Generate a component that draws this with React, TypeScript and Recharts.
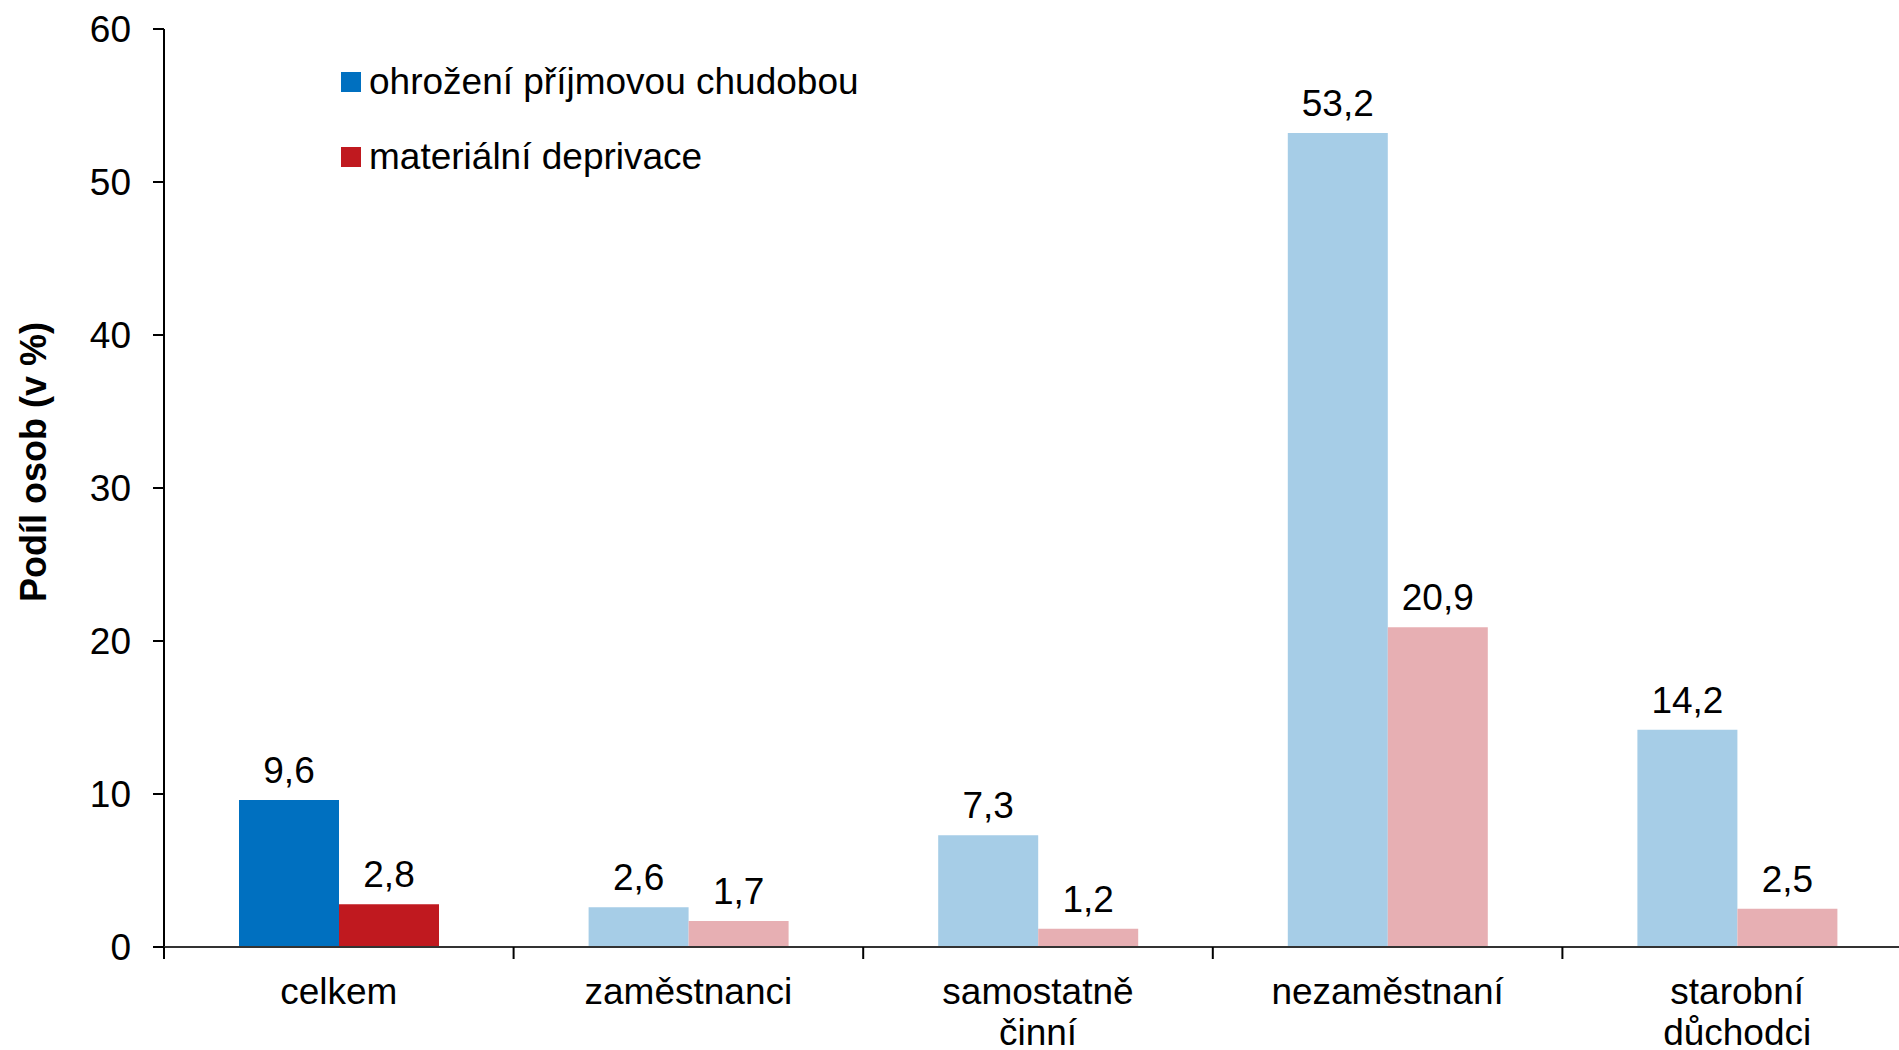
import { BarChart, Bar, XAxis, YAxis, Cell, LabelList, Legend } from "recharts";

const categories = ["celkem", "zaměstnanci", "samostatně činní", "nezaměstnaní", "starobní důchodci"];
const incomePoverty = [9.6, 2.6, 7.3, 53.2, 14.2];
const materialDeprivation = [2.8, 1.7, 1.2, 20.9, 2.5];
const yTicks = [0, 10, 20, 30, 40, 50, 60];
const seriesNames = ["ohrožení příjmovou chudobou", "materiální deprivace"];

const FONT = '"Liberation Sans", Arial, sans-serif';
const FS = 37;
const BLUE = "#0070c0";
const BLUE_LIGHT = "#a6cde7";
const RED = "#c0191f";
const RED_LIGHT = "#e7afb3";

const data = categories.map((name, i) => ({
  name,
  poverty: incomePoverty[i],
  deprivation: materialDeprivation[i],
}));

const fmt = (v: number) => v.toFixed(1).replace(".", ",");

function CategoryTick(props: any) {
  const { x, y, payload, index } = props;
  const lines = String(payload.value).split(" ");
  const half = payload.offset || 0;
  return (
    <g>
      <line x1={x - half} x2={x - half} y1={y - 12} y2={y} stroke="#000" strokeWidth={2} />
      {index === categories.length - 1 && (
        <line x1={x + half} x2={x + half} y1={y - 12} y2={y} stroke="#000" strokeWidth={2} />
      )}
      <text x={x} y={y} textAnchor="middle" fontSize={FS} fontFamily={FONT} fill="#000">
        {lines.map((l, i) => (
          <tspan key={i} x={x} dy={i === 0 ? 45 : 41}>
            {l}
          </tspan>
        ))}
      </text>
    </g>
  );
}

function LegendBox() {
  const colors = [BLUE, RED];
  return (
    <div style={{ fontFamily: FONT, fontSize: FS, color: "#000", whiteSpace: "nowrap" }}>
      {seriesNames.map((n, i) => (
        <div key={n} style={{ display: "flex", alignItems: "center", height: 75 }}>
          <span style={{ width: 20, height: 20, background: colors[i], marginRight: 8 }} />
          <span>{n}</span>
        </div>
      ))}
    </div>
  );
}

export default function App() {
  return (
    <div style={{ position: "absolute", left: 0, top: 0, width: 1899, height: 1050, overflow: "hidden", background: "#fff" }}>
      <BarChart
        width={1920}
        height={1050}
        data={data}
        margin={{ top: 29, right: 8, left: 0, bottom: 0 }}
        barGap={0}
        barCategoryGap={75}
      >
        <YAxis
          domain={[0, 60]}
          ticks={yTicks}
          width={164}
          tickSize={11}
          tickMargin={22}
          axisLine={{ stroke: "#000", strokeWidth: 2 }}
          tickLine={{ stroke: "#000", strokeWidth: 2 }}
          tick={{ fontSize: FS, fontFamily: FONT, fill: "#000" }}
          label={(p: any) => {
            const vb = p.viewBox;
            const cx = vb.x + 33;
            const cy = vb.y + vb.height / 2 - 26;
            return (
              <text
                x={cx}
                y={cy}
                transform={`rotate(-90 ${cx} ${cy})`}
                textAnchor="middle"
                dominantBaseline="central"
                fontSize={36}
                fontWeight="bold"
                fontFamily={FONT}
                fill="#000"
              >
                Podíl osob (v %)
              </text>
            );
          }}
        />
        <XAxis
          dataKey="name"
          height={103}
          interval={0}
          tickSize={12}
          tickMargin={0}
          tickLine={false}
          axisLine={{ stroke: "#333", strokeWidth: 2 }}
          tick={<CategoryTick />}
        />
        <Legend
          layout="vertical"
          align="center"
          verticalAlign="middle"
          wrapperStyle={{ left: 341, top: 44, width: "auto" }}
          content={<LegendBox />}
        />
        <Bar dataKey="poverty" name={seriesNames[0]} isAnimationActive={false}>
          {data.map((_, i) => (
            <Cell key={i} fill={i === 0 ? BLUE : BLUE_LIGHT} />
          ))}
          <LabelList dataKey="poverty" position="top" offset={17} formatter={(v: any) => fmt(Number(v))} style={{ fontSize: FS, fontFamily: FONT, fill: "#000" }} />
        </Bar>
        <Bar dataKey="deprivation" name={seriesNames[1]} isAnimationActive={false}>
          {data.map((_, i) => (
            <Cell key={i} fill={i === 0 ? RED : RED_LIGHT} />
          ))}
          <LabelList dataKey="deprivation" position="top" offset={17} formatter={(v: any) => fmt(Number(v))} style={{ fontSize: FS, fontFamily: FONT, fill: "#000" }} />
        </Bar>
      </BarChart>
    </div>
  );
}
